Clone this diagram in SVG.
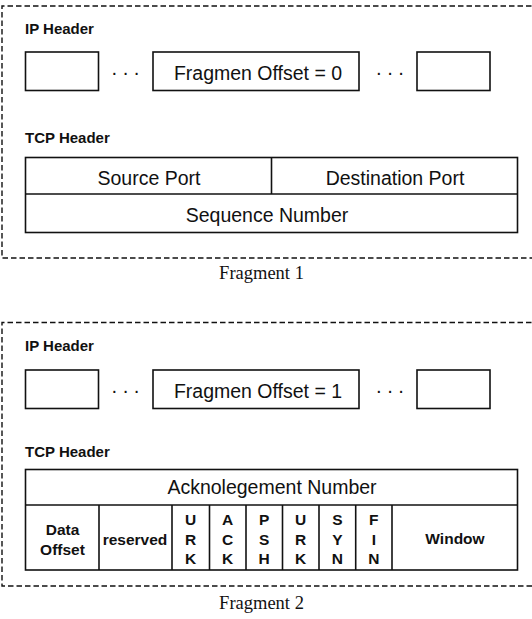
<svg xmlns="http://www.w3.org/2000/svg" width="532" height="619" viewBox="0 0 532 619">
<style>
.frame{fill:none;stroke:#111;stroke-width:1.4;stroke-dasharray:5.5 3}
.box{fill:#fff;stroke:#111;stroke-width:1.6}
.ln{stroke:#111;stroke-width:1.6;fill:none}
.hd{font-family:"Liberation Sans",Arial,sans-serif;font-weight:bold;font-size:15px;fill:#111}
.big{font-family:"Liberation Sans",Arial,sans-serif;font-size:19.5px;fill:#111;text-anchor:middle}
.sm{font-family:"Liberation Sans",Arial,sans-serif;font-weight:bold;font-size:15.5px;fill:#111;text-anchor:middle}
.dots{font-family:"Liberation Sans",Arial,sans-serif;font-size:20px;fill:#111;letter-spacing:4.5px}
.cap{font-family:"Liberation Serif","Times New Roman",serif;font-size:18.5px;fill:#111;text-anchor:middle}
</style>
<rect width="532" height="619" fill="#fff"/>

<g id="fragment1">
  <path class="frame" d="M540 6 H2 V258 H540"/>
  <text class="hd" x="25" y="34">IP Header</text>
  <g id="f1-ip">
    <rect class="box" x="25.5" y="52" width="73" height="38.5"/>
    <text class="dots" x="111" y="79">···</text>
    <rect class="box" x="153" y="52" width="206" height="38.5"/>
    <text class="big" x="258" y="80">Fragmen Offset = 0</text>
    <text class="dots" x="375.5" y="79">···</text>
    <rect class="box" x="417" y="52" width="73" height="38.5"/>
  </g>
  <text class="hd" x="25" y="143">TCP Header</text>
  <g id="f1-tcp">
    <rect class="box" x="25.5" y="157.5" width="492" height="75"/>
    <line class="ln" x1="25.5" y1="194" x2="517.5" y2="194"/>
    <line class="ln" x1="271.5" y1="157.5" x2="271.5" y2="194"/>
    <text class="big" x="149" y="185">Source Port</text>
    <text class="big" x="395" y="185">Destination Port</text>
    <text class="big" x="267" y="222">Sequence Number</text>
  </g>
  <text class="cap" x="261.5" y="279">Fragment 1</text>
</g>

<g id="fragment2">
  <path class="frame" d="M540 322.5 H2 V586 H540"/>
  <text class="hd" x="25" y="351">IP Header</text>
  <g id="f2-ip">
    <rect class="box" x="25.5" y="370" width="73" height="38.5"/>
    <text class="dots" x="111" y="397">···</text>
    <rect class="box" x="153" y="370" width="206" height="38.5"/>
    <text class="big" x="258" y="398">Fragmen Offset = 1</text>
    <text class="dots" x="375.5" y="397">···</text>
    <rect class="box" x="417" y="370" width="73" height="38.5"/>
  </g>
  <text class="hd" x="25" y="457">TCP Header</text>
  <g id="f2-tcp">
    <rect class="box" x="25.5" y="469.5" width="492" height="100.5"/>
    <line class="ln" x1="25.5" y1="505" x2="517.5" y2="505"/>
    <line class="ln" x1="99" y1="505" x2="99" y2="570"/>
    <line class="ln" x1="172" y1="505" x2="172" y2="570"/>
    <line class="ln" x1="209.5" y1="505" x2="209.5" y2="570"/>
    <line class="ln" x1="246" y1="505" x2="246" y2="570"/>
    <line class="ln" x1="282.5" y1="505" x2="282.5" y2="570"/>
    <line class="ln" x1="319" y1="505" x2="319" y2="570"/>
    <line class="ln" x1="355.7" y1="505" x2="355.7" y2="570"/>
    <line class="ln" x1="392" y1="505" x2="392" y2="570"/>
    <text class="big" x="272" y="494">Acknolegement Number</text>
    <text class="sm" x="62.5" y="535">Data</text>
    <text class="sm" x="62.5" y="554.5">Offset</text>
    <text class="sm" x="135" y="545">reserved</text>
    <g class="sm">
      <text class="sm" x="190.7" y="525">U</text><text class="sm" x="190.7" y="545">R</text><text class="sm" x="190.7" y="564">K</text>
      <text class="sm" x="227.7" y="525">A</text><text class="sm" x="227.7" y="545">C</text><text class="sm" x="227.7" y="564">K</text>
      <text class="sm" x="264.2" y="525">P</text><text class="sm" x="264.2" y="545">S</text><text class="sm" x="264.2" y="564">H</text>
      <text class="sm" x="300.7" y="525">U</text><text class="sm" x="300.7" y="545">R</text><text class="sm" x="300.7" y="564">K</text>
      <text class="sm" x="337.3" y="525">S</text><text class="sm" x="337.3" y="545">Y</text><text class="sm" x="337.3" y="564">N</text>
      <text class="sm" x="373.8" y="525">F</text><text class="sm" x="373.8" y="545">I</text><text class="sm" x="373.8" y="564">N</text>
    </g>
    <text class="sm" x="455" y="544">Window</text>
  </g>
  <text class="cap" x="261.5" y="609">Fragment 2</text>
</g>
</svg>
